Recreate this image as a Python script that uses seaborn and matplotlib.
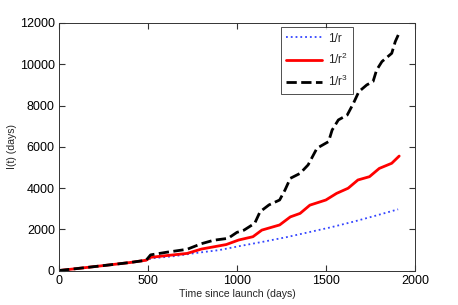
import seaborn as sns
import matplotlib.pyplot as plt
import pandas as pd

# time since launch (days) and accumulated I(t) (days)
t_r1 = [0, 100, 250, 400, 490, 520, 650, 760, 900, 1017, 1150, 1280, 1400, 1530, 1660, 1780, 1906]
i_r1 = [0, 95, 240, 390, 500, 590, 700, 840, 990, 1188, 1400, 1620, 1850, 2100, 2380, 2660, 2968]

t_r2 = [0, 100, 250, 400, 490, 515, 600, 720, 800, 870, 940, 1010, 1090, 1140, 1240, 1300,
        1355, 1410, 1500, 1560, 1625, 1680, 1745, 1800, 1870, 1912]
i_r2 = [0, 95, 240, 390, 500, 640, 720, 830, 1040, 1150, 1260, 1480, 1640, 1960, 2210, 2600,
        2770, 3170, 3420, 3740, 3990, 4390, 4550, 4950, 5200, 5550]

t_r3 = [0, 100, 250, 400, 490, 515, 600, 720, 800, 870, 950, 1000, 1040, 1100, 1130, 1180,
        1240, 1270, 1300, 1355, 1400, 1450, 1515, 1535, 1570, 1620, 1655, 1685, 1730, 1765,
        1785, 1815, 1870, 1890, 1916]
i_r3 = [0, 95, 240, 390, 500, 760, 880, 1030, 1300, 1470, 1560, 1850, 1960, 2290, 2850, 3180,
        3420, 3900, 4470, 4710, 5120, 5930, 6250, 6810, 7300, 7540, 8110, 8670, 9000, 9160,
        9720, 10130, 10530, 11100, 11600]

labels = ['1/r', '1/r$^2$', '1/r$^3$']

sns.set_style('white')
plt.rcParams['font.family'] = ['Liberation Sans', 'DejaVu Sans']
plt.rcParams['mathtext.fontset'] = 'custom'
plt.rcParams['mathtext.rm'] = 'Liberation Sans'
plt.rcParams['mathtext.it'] = 'Liberation Sans'

fig = plt.figure(figsize=(4.58, 3.05), dpi=100)
ax = fig.add_axes([0.1288, 0.113, 0.777, 0.8116])

sns.lineplot(x=t_r1, y=i_r1, ax=ax, color='#3344ff', linestyle=':', linewidth=1.3, label=labels[0])
sns.lineplot(x=t_r2, y=i_r2, ax=ax, color='red', linestyle='-', linewidth=2.0, label=labels[1])
sns.lineplot(x=t_r3, y=i_r3, ax=ax, color='black', linestyle='--', linewidth=2.0,
             dashes=(3, 2), label=labels[2])

ax.set_xlim(0, 2000)
ax.set_ylim(0, 12000)
ax.set_xticks([0, 500, 1000, 1500, 2000])
ax.set_yticks(range(0, 12001, 2000))
ax.tick_params(which='major', direction='in', length=4, width=0.8, labelsize=9,
               top=True, right=True, bottom=True, left=True,
               color='#333333', labelcolor='black', pad=3)
for s in ax.spines.values():
    s.set_linewidth(0.7)
    s.set_color('#333333')

ax.set_xlabel('Time since launch (days)', fontsize=7.6, labelpad=2)
ax.set_ylabel('I(t) (days)', fontsize=7.6, labelpad=2)

leg = ax.legend(loc='upper left', bbox_to_anchor=(0.624, 0.983), fontsize=8.5, frameon=True,
                fancybox=False, edgecolor='black', handlelength=3.0, labelspacing=0.6,
                borderpad=0.45, handletextpad=0.5, borderaxespad=0)
leg.get_frame().set_linewidth(0.6)

fig.savefig('out.png', dpi=100)
